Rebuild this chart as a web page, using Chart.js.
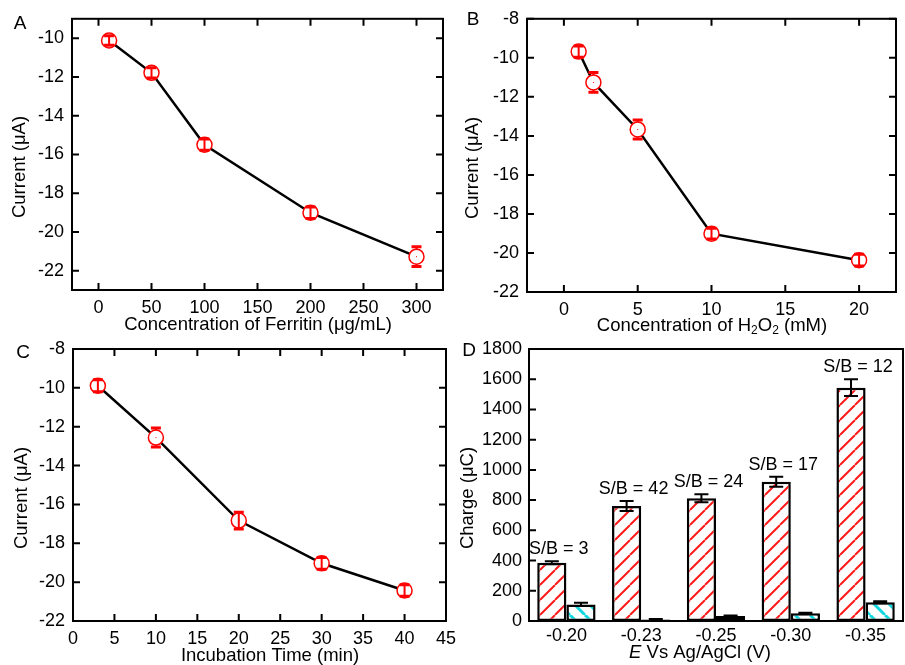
<!DOCTYPE html>
<html><head><meta charset="utf-8">
<script src="https://cdn.jsdelivr.net/npm/chart.js@4"></script>
<style>
html,body{margin:0;padding:0;background:#fff;}
body{width:905px;height:665px;position:relative;overflow:hidden;}
canvas{position:absolute;}
</style></head><body>
<canvas id="cA" style="left:0px;top:0px" width="452" height="340"></canvas>
<canvas id="cB" style="left:450px;top:0px" width="455" height="340"></canvas>
<canvas id="cC" style="left:0px;top:330px" width="465" height="335"></canvas>
<canvas id="cD" style="left:450px;top:330px" width="455" height="335"></canvas>
<script>
// ---------- DATA ----------
// Panel A: ferritin concentration
const ferritinConc = [10, 50, 100, 200, 300];
const ferritinCurrent = [-10.12, -11.79, -15.5, -19.01, -21.28];
const ferritinErr = [0.25, 0.26, 0.29, 0.3, 0.51];
const ferritinXTicks = [0, 50, 100, 150, 200, 250, 300];
const ferritinYTicks = [-10, -12, -14, -16, -18, -20, -22];
// Panel B: H2O2 concentration
const h2o2Conc = [1, 2, 5, 10, 20];
const h2o2Current = [-9.68, -11.26, -13.67, -19.01, -20.37];
const h2o2Err = [0.29, 0.51, 0.49, 0.28, 0.3];
const h2o2XTicks = [0, 5, 10, 15, 20];
const currentYTicks = [-8, -10, -12, -14, -16, -18, -20, -22];
// Panel C: incubation time
const incubationTime = [3, 10, 20, 30, 40];
const incubationCurrent = [-9.89, -12.56, -16.83, -19.03, -20.43];
const incubationErr = [0.31, 0.49, 0.43, 0.3, 0.3];
const incubationXTicks = [0, 5, 10, 15, 20, 25, 30, 35, 40, 45];
// Panel D: potential
const potentials = ['-0.20', '-0.23', '-0.25', '-0.30', '-0.35'];
const signalCharge = [386, 761, 812, 922, 1544];
const signalErr = [10, 33, 26, 33, 55];
const blankCharge = [110, 10, 33, 51, 124];
const blankErr = [11, 4, 4, 4, 6];
const sbLabels = ['S/B = 3', 'S/B = 42', 'S/B = 24', 'S/B = 17', 'S/B = 12'];
const chargeYTicks = [0, 200, 400, 600, 800, 1000, 1200, 1400, 1600, 1800];

// ---------- HELPERS ----------
const FAM = "'Liberation Sans', Arial, sans-serif";
const TICK = 18;
const TITLE = 18.5;
Chart.defaults.font.family = FAM;
Chart.defaults.color = '#000';
Chart.defaults.animation = false;

function f(size, style) { return (style || '') + ' ' + size + 'px ' + FAM; }

function drawParts(ctx, parts, x, y, rot) {
  ctx.save();
  ctx.translate(x, y);
  if (rot) ctx.rotate(rot);
  ctx.textBaseline = 'middle';
  ctx.textAlign = 'left';
  ctx.fillStyle = '#000';
  let total = 0;
  parts.forEach(p => { ctx.font = p.font; total += ctx.measureText(p.t).width; });
  let cx = -total / 2;
  parts.forEach(p => { ctx.font = p.font; ctx.fillText(p.t, cx, p.dy || 0); cx += ctx.measureText(p.t).width; });
  ctx.restore();
}

function seg(ctx, x1, y1, x2, y2) { ctx.moveTo(x1, y1); ctx.lineTo(x2, y2); }

function drawFrame(chart, opts) {
  const ctx = chart.ctx, a = chart.chartArea;
  ctx.save();
  ctx.strokeStyle = '#000';
  ctx.lineWidth = 2;
  ctx.strokeRect(a.left, a.top, a.right - a.left, a.bottom - a.top);
  const tl = 7;
  ctx.beginPath();
  if (opts.xTicks) {
    chart.scales.x.ticks.forEach(t => {
      const px = chart.scales.x.getPixelForValue(t.value);
      seg(ctx, px, a.bottom, px, a.bottom - tl);
      seg(ctx, px, a.top, px, a.top + tl);
    });
  }
  chart.scales.y.ticks.forEach(t => {
    const py = chart.scales.y.getPixelForValue(t.value);
    seg(ctx, a.left, py, a.left + tl, py);
    if (opts.mirrorY) seg(ctx, a.right, py, a.right - tl, py);
  });
  ctx.stroke();
  ctx.restore();
}

function lineChart(id, d) {
  const deco = {
    id: 'deco' + id,
    afterDatasetsDraw(chart) {
      const ctx = chart.ctx, ys = chart.scales.y;
      const meta = chart.getDatasetMeta(0);
      ctx.save();
      ctx.strokeStyle = '#ff0000';
      meta.data.forEach((pt, i) => {
        const yt = ys.getPixelForValue(d.y[i] + d.err[i]);
        const yb = ys.getPixelForValue(d.y[i] - d.err[i]);
        const x = pt.x, r = 7.5;
        ctx.lineWidth = 2;
        ctx.beginPath();
        if (pt.y - yt > r + 1) { seg(ctx, x, yt, x, pt.y - r); seg(ctx, x, pt.y + r, x, yb); }
        else { seg(ctx, x, yt, x, yb); }
        ctx.stroke();
        ctx.lineWidth = 3;
        ctx.beginPath();
        seg(ctx, x - 5, yt, x + 5, yt); seg(ctx, x - 5, yb, x + 5, yb);
        ctx.stroke();
        ctx.fillStyle = '#ff0000';
        ctx.fillRect(x - 0.5, pt.y - 0.5, 1, 1);
      });
      ctx.restore();
      drawFrame(chart, { xTicks: true, mirrorY: true });
      d.texts.forEach(t => drawParts(ctx, t.parts, t.x, t.y, t.rot));
    }
  };
  return new Chart(document.getElementById(id), {
    type: 'line',
    data: {
      datasets: [{
        data: d.x.map((x, i) => ({ x: x, y: d.y[i] })),
        borderColor: '#000',
        borderWidth: 2.5,
        pointRadius: 7.5,
        pointBorderWidth: 1.5,
        pointBorderColor: '#ff0000',
        pointBackgroundColor: '#ffffff',
        tension: 0,
        fill: false
      }]
    },
    options: {
      responsive: false,
      animation: false,
      events: [],
      layout: { padding: { top: d.T, right: d.R, left: 0, bottom: 0 } },
      plugins: { legend: { display: false }, tooltip: { enabled: false } },
      scales: {
        x: {
          type: 'linear', min: d.xMin, max: d.xMax,
          afterBuildTicks: s => { s.ticks = d.xTicks.map(v => ({ value: v })); },
          afterFit: s => { s.height = d.B; },
          grid: { display: false, drawTicks: false },
          border: { display: false },
          ticks: { font: { size: TICK }, padding: 7, maxRotation: 0, autoSkip: false, callback: v => String(v) }
        },
        y: {
          type: 'linear', min: d.yMin, max: d.yMax,
          afterBuildTicks: s => { s.ticks = d.yTicks.map(v => ({ value: v })); },
          afterFit: s => { s.width = d.L; },
          grid: { display: false, drawTicks: false },
          border: { display: false },
          ticks: { font: { size: TICK }, padding: 8, autoSkip: false, callback: v => String(v) }
        }
      }
    },
    plugins: [deco]
  });
}

// ---------- PANEL A ----------
lineChart('cA', {
  x: ferritinConc, y: ferritinCurrent, err: ferritinErr,
  xMin: -25, xMax: 325, xTicks: ferritinXTicks,
  yMin: -23, yMax: -9, yTicks: ferritinYTicks,
  L: 72, T: 16, R: 6, B: 50,
  texts: [
    { parts: [{ t: 'A', font: f(19) }], x: 20, y: 24 },
    { parts: [{ t: 'Current (\u03bcA)', font: f(TITLE) }], x: 20, y: 167, rot: -Math.PI / 2 },
    { parts: [{ t: 'Concentration of Ferritin (\u03bcg/mL)', font: f(TITLE) }], x: 258, y: 325 }
  ]
});

// ---------- PANEL B ----------
lineChart('cB', {
  x: h2o2Conc, y: h2o2Current, err: h2o2Err,
  xMin: -2.5, xMax: 22.5, xTicks: h2o2XTicks,
  yMin: -22, yMax: -8, yTicks: currentYTicks,
  L: 77, T: 17, R: 8, B: 48,
  texts: [
    { parts: [{ t: 'B', font: f(19) }], x: 23, y: 20 },
    { parts: [{ t: 'Current (\u03bcA)', font: f(TITLE) }], x: 23, y: 168, rot: -Math.PI / 2 },
    { parts: [
      { t: 'Concentration of H', font: f(TITLE) },
      { t: '2', font: f(12), dy: 5 },
      { t: 'O', font: f(TITLE) },
      { t: '2', font: f(12), dy: 5 },
      { t: ' (mM)', font: f(TITLE) }
    ], x: 262, y: 326 }
  ]
});

// ---------- PANEL C ----------
lineChart('cC', {
  x: incubationTime, y: incubationCurrent, err: incubationErr,
  xMin: 0, xMax: 45, xTicks: incubationXTicks,
  yMin: -22, yMax: -8, yTicks: currentYTicks,
  L: 73, T: 19, R: 19, B: 44,
  texts: [
    { parts: [{ t: 'C', font: f(19) }], x: 23, y: 23 },
    { parts: [{ t: 'Current (\u03bcA)', font: f(TITLE) }], x: 22, y: 168, rot: -Math.PI / 2 },
    { parts: [{ t: 'Incubation Time (min)', font: f(TITLE) }], x: 270, y: 326 }
  ]
});

// ---------- PANEL D ----------
function hatch(color, forward, lw, s) {
  const c = document.createElement('canvas');
  c.width = s; c.height = s;
  const g = c.getContext('2d');
  g.fillStyle = '#ffffff';
  g.fillRect(0, 0, s, s);
  g.strokeStyle = color;
  g.lineWidth = lw;
  g.beginPath();
  for (let k = -1; k <= 1; k++) {
    if (forward) { g.moveTo(k * s, s); g.lineTo(k * s + s, 0); }
    else { g.moveTo(k * s, 0); g.lineTo(k * s + s, s); }
  }
  g.stroke();
  return g.createPattern(c, 'repeat');
}
const redHatch = hatch('#ff1a1a', true, 2, 15);
const cyanHatch = hatch('#10d8e0', false, 3, 15);

const decoD = {
  id: 'decoD',
  afterDatasetsDraw(chart) {
    const ctx = chart.ctx, ys = chart.scales.y;
    const sets = [[signalCharge, signalErr], [blankCharge, blankErr]];
    ctx.save();
    ctx.strokeStyle = '#000';
    sets.forEach((s, di) => {
      const meta = chart.getDatasetMeta(di);
      meta.data.forEach((bar, i) => {
        const yt = ys.getPixelForValue(s[0][i] + s[1][i]);
        const yb = ys.getPixelForValue(s[0][i] - s[1][i]);
        ctx.lineWidth = 2;
        ctx.beginPath();
        seg(ctx, bar.x, yt, bar.x, yb);
        seg(ctx, bar.x - 7, yt, bar.x + 7, yt);
        seg(ctx, bar.x - 7, yb, bar.x + 7, yb);
        ctx.stroke();
      });
    });
    ctx.restore();
    // S/B labels
    const meta0 = chart.getDatasetMeta(0);
    meta0.data.forEach((bar, i) => {
      const yt = ys.getPixelForValue(signalCharge[i] + signalErr[i]);
      drawParts(ctx, [{ t: sbLabels[i], font: f(18) }], bar.x + 7, yt - 12);
    });
    drawFrame(chart, { xTicks: false, mirrorY: false });
    drawParts(ctx, [{ t: 'D', font: f(19) }], 19, 21);
    drawParts(ctx, [{ t: 'Charge (\u03bcC)', font: f(TITLE) }], 18, 168, -Math.PI / 2);
    drawParts(ctx, [{ t: 'E', font: f(TITLE, 'italic') }, { t: ' Vs Ag/AgCl (V)', font: f(TITLE) }], 250, 323);
  }
};

new Chart(document.getElementById('cD'), {
  type: 'bar',
  data: {
    labels: potentials,
    datasets: [
      { data: signalCharge, backgroundColor: redHatch, borderColor: '#000', borderWidth: 2.5, borderSkipped: false, categoryPercentage: 0.78, barPercentage: 1.0 },
      { data: blankCharge, backgroundColor: cyanHatch, borderColor: '#000', borderWidth: 2.5, borderSkipped: false, categoryPercentage: 0.78, barPercentage: 1.0 }
    ]
  },
  options: {
    responsive: false,
    animation: false,
    events: [],
    layout: { padding: { top: 19, right: 2, left: 0, bottom: 0 } },
    plugins: { legend: { display: false }, tooltip: { enabled: false } },
    scales: {
      x: {
        type: 'category',
        afterFit: s => { s.height = 44; },
        grid: { display: false, drawTicks: false },
        border: { display: false },
        ticks: { font: { size: TICK }, padding: 4, maxRotation: 0, autoSkip: false }
      },
      y: {
        type: 'linear', min: 0, max: 1800,
        afterBuildTicks: s => { s.ticks = chargeYTicks.map(v => ({ value: v })); },
        afterFit: s => { s.width = 79; },
        grid: { display: false, drawTicks: false },
        border: { display: false },
        ticks: { font: { size: TICK }, padding: 7, autoSkip: false, callback: v => String(v) }
      }
    }
  },
  plugins: [decoD]
});
</script>
</body></html>
